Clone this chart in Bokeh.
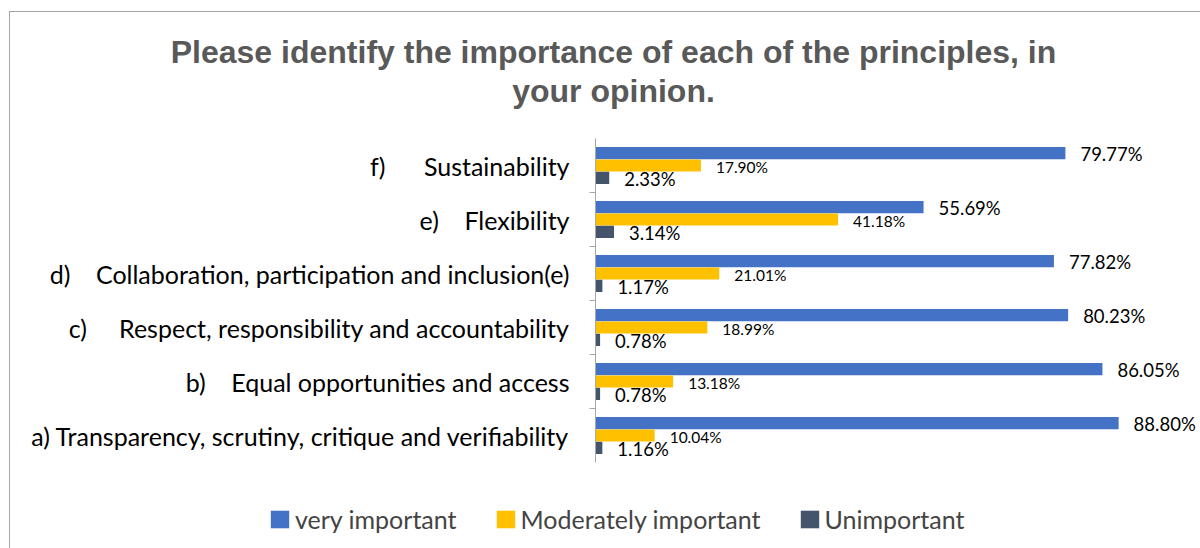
from bokeh.plotting import figure
from bokeh.layouts import column
from bokeh.models import (FactorRange, Range1d, CategoricalAxis, CategoricalScale, Label,
                          ColumnDataSource, Legend, LegendItem, LabelSet)
from bokeh.core.properties import value
from bokeh.transform import dodge
from bokeh.embed import file_html
from bokeh.resources import INLINE

NB = "\u00a0"
# ---------------- data ----------------
categories = [
    "a) Transparency, scrutiny, critique and verifiability",
    "b)" + NB * 4 + "Equal opportunities and access",
    "c)" + NB * 5 + "Respect, responsibility and accountability",
    "d)" + NB * 4 + "Collaboration, participation and inclusion(e)",
    "e)" + NB * 4 + "Flexibility",
    "f)" + NB * 6 + "Sustainability",
]
very_important = [88.80, 86.05, 80.23, 77.82, 55.69, 79.77]
moderately_important = [10.04, 13.18, 18.99, 21.01, 41.18, 17.90]
unimportant = [1.16, 0.78, 0.78, 1.17, 3.14, 2.33]
series_names = ["very important", "Moderately important", "Unimportant"]
title_lines = ["Please identify the importance of each of the principles, in", "your opinion."]

colors = ["#4472C4", "#FFC000", "#44546A"]
FONT = "Lato"
W = 1190


def no_align(f):
    try:
        f.frame_align = False
    except AttributeError:
        pass
    return f


def blank(height, **kw):
    kw.setdefault("x_range", Range1d(0, 1))
    kw.setdefault("y_range", Range1d(0, 1))
    f = figure(width=W, height=height, output_backend="svg", toolbar_location=None,
               x_axis_location=None, y_axis_location=None,
               min_border_left=0, min_border_right=0, min_border_top=0, min_border_bottom=0, **kw)
    f.grid.visible = False
    f.outline_line_color = None
    return no_align(f)


# ---------------- title ----------------
TH = 115
pt = blank(TH)
for i, line in enumerate(title_lines):
    pt.add_layout(Label(x=603, y=TH - 39 - 39 * i, x_units="screen", y_units="screen", text=line,
                        text_align="center", text_baseline="alphabetic",
                        text_font="Liberation Sans", text_font_style="bold",
                        text_font_size="32px", text_color="#595959"))

# ---------------- main chart ----------------
src = ColumnDataSource(dict(
    cat=categories,
    v=very_important, m=moderately_important, u=unimportant,
    v_lbl=[f"{x:.2f}%" for x in very_important],
    m_lbl=[f"{x:.2f}%" for x in moderately_important],
    u_lbl=[f"{x:.2f}%" for x in unimportant],
))

p = figure(width=W, height=368, y_range=FactorRange(*categories, range_padding=0),
           x_range=Range1d(0, 102.7), output_backend="svg", toolbar_location=None,
           x_axis_location=None, y_axis_location=None,
           min_border_left=585, min_border_right=0, min_border_top=11, min_border_bottom=33)
p.grid.visible = False
p.outline_line_color = None
no_align(p)

# boundary tick axis: a factor range shifted by half a factor so that its
# ticks fall on the category boundaries
bounds = [f"b{i}" for i in range(len(categories) + 1)]
p.extra_y_ranges = {"grp": FactorRange(*bounds, range_padding=-0.5, range_padding_units="absolute")}
p.extra_y_scales = {"grp": CategoricalScale()}
tick_axis = CategoricalAxis(y_range_name="grp",
                            major_tick_out=6, major_tick_in=0,
                            axis_line_color="#a6a6a6", major_tick_line_color="#a6a6a6",
                            major_label_text_font_size="0px", major_label_text_alpha=0,
                            major_label_standoff=0,
                            major_label_overrides={b: "" for b in bounds})
p.add_layout(tick_axis, "left")
cat_axis = CategoricalAxis(major_tick_out=0, major_tick_in=0, axis_line_color=None,
                           major_label_text_font=FONT, major_label_text_font_size="25px",
                           major_label_text_color="#000000", major_label_standoff=20)
p.add_layout(cat_axis, "left")

offs = [0.23, 0.0, -0.23]
cols = ["v", "m", "u"]
for col, off, c in zip(cols, offs, colors):
    p.hbar(y=dodge("cat", off, range=p.y_range), left=0, right=col, height=0.225,
           fill_color=c, line_color=None, source=src)

lbl_styles = {"v": ("18.5px", 15, -1), "m": ("15.5px", 15, -1), "u": ("18.5px", 15, -1)}
for col, off in zip(cols, offs):
    size, xoff, yoff = lbl_styles[col]
    p.add_layout(LabelSet(x=col, y=dodge("cat", off, range=p.y_range), text=f"{col}_lbl",
                          x_offset=xoff, y_offset=yoff, source=src,
                          text_font=value(FONT), text_font_size=value(size),
                          text_baseline="middle", text_color="#000000"))

# ---------------- legend (its own strip; the series are drawn hidden there) ----------------
LH = 53
pl = blank(LH, x_range=p.x_range, y_range=p.y_range)
lr = []
for col, off, c in zip(cols, offs, colors):
    r = pl.hbar(y=dodge("cat", off, range=p.y_range), left=0, right=col, height=0.225,
                fill_color=c, line_color=None, source=src)
    r.visible = False
    lr.append(r)
legend = Legend(items=[LegendItem(label=n, renderers=[r]) for n, r in zip(series_names, lr)],
                location=(258, 14), orientation="horizontal", padding=0, margin=0,
                glyph_width=23, glyph_height=22, label_text_font=FONT,
                label_text_font_size="25px", label_standoff=4, spacing=37,
                border_line_color=None, background_fill_alpha=0,
                inactive_fill_alpha=0)
pl.add_layout(legend, "center")

layout = column(pt, p, pl, spacing=0)
layout.styles = {"border-left": "1px solid #a6a6a6", "border-top": "1px solid #a6a6a6",
                 "margin-top": "11px", "margin-left": "9px"}

open("out.html", "w").write(file_html(layout, INLINE))
